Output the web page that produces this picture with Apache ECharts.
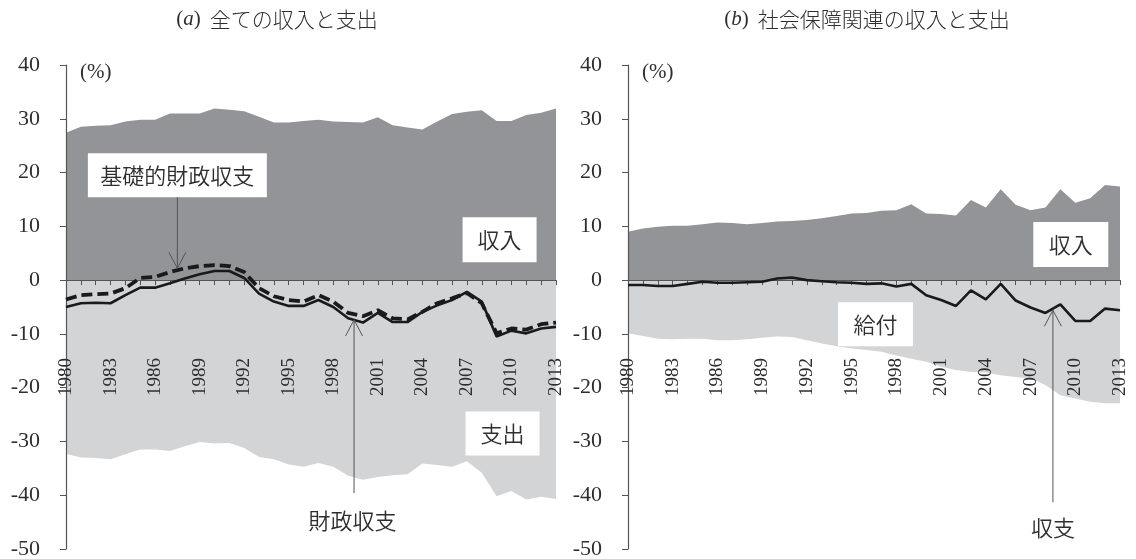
<!DOCTYPE html>
<html>
<head>
<meta charset="utf-8">
<script src="https://cdn.jsdelivr.net/npm/echarts@6/dist/echarts.min.js"></script>
<style>
  html, body { margin: 0; padding: 0; background: #fff; }
  #chart { width: 1136px; height: 559px; }
</style>
</head>
<body>
<div id="chart"></div>
<script>
// Fiscal years on the horizontal axis
const years = ['1980','1981','1982','1983','1984','1985','1986','1987','1988','1989',
  '1990','1991','1992','1993','1994','1995','1996','1997','1998','1999',
  '2000','2001','2002','2003','2004','2005','2006','2007','2008','2009',
  '2010','2011','2012','2013'];

// (a) all revenue and expenditure, % of GDP
const totalRevenue = [27.4,28.5,28.7,28.8,29.5,29.8,29.8,31.0,31.0,31.0,31.9,31.7,31.4,30.4,29.3,29.3,29.6,29.8,29.5,29.4,29.3,30.3,28.8,28.4,28.0,29.5,30.9,31.3,31.6,29.6,29.6,30.7,31.1,31.9];
const totalExpenditure = [-32.3,-33.0,-33.1,-33.3,-32.4,-31.5,-31.5,-31.8,-30.9,-30.1,-30.4,-30.3,-31.2,-32.9,-33.3,-34.3,-34.7,-34.0,-34.7,-36.4,-37.1,-36.6,-36.3,-36.1,-34.1,-34.4,-34.7,-33.7,-35.8,-40.2,-39.2,-40.8,-40.3,-40.7];
const fiscalBalance = [-5.0,-4.3,-4.2,-4.3,-2.8,-1.4,-1.4,-0.6,0.3,1.1,1.7,1.7,0.4,-2.5,-4.0,-4.8,-4.8,-3.7,-5.0,-7.1,-7.9,-6.1,-7.8,-7.8,-5.9,-4.7,-3.7,-2.2,-4.0,-10.5,-9.4,-9.9,-9.0,-8.7];
const primaryBalance = [-3.6,-2.8,-2.6,-2.5,-1.5,0.4,0.6,1.5,2.2,2.6,2.8,2.6,1.5,-1.5,-3.0,-3.7,-4.0,-2.8,-4.0,-6.1,-6.7,-5.6,-7.1,-7.3,-5.9,-4.3,-3.4,-2.4,-4.3,-9.9,-9.0,-9.2,-8.2,-7.9];

// (b) social security revenue, benefits and balance, % of GDP
const ssRevenue = [9.0,9.6,9.9,10.1,10.1,10.4,10.7,10.6,10.4,10.6,10.9,11.0,11.2,11.5,11.9,12.4,12.5,12.9,13.0,14.1,12.4,12.3,12.0,14.9,13.5,16.9,14.0,13.0,13.5,16.9,14.4,15.2,17.7,17.4];
const ssBenefits = [-9.9,-10.4,-10.9,-11.0,-10.9,-10.9,-11.2,-11.2,-11.0,-10.7,-10.5,-10.6,-11.2,-11.8,-12.3,-12.7,-13.0,-13.3,-14.0,-14.6,-15.2,-16.1,-16.7,-17.1,-17.2,-17.7,-18.0,-18.3,-19.5,-21.4,-22.0,-22.6,-22.9,-22.9];
const ssBalance = [-0.9,-0.9,-1.1,-1.1,-0.7,-0.3,-0.5,-0.5,-0.4,-0.3,0.3,0.5,0.0,-0.2,-0.4,-0.5,-0.7,-0.6,-1.2,-0.7,-2.8,-3.7,-4.8,-1.9,-3.6,-0.7,-3.8,-5.1,-6.1,-4.5,-7.6,-7.6,-5.3,-5.6];

// Panel titles and unit label
const panelTitles = ['全ての収入と支出', '社会保障関連の収入と支出'];
const panelLetters = ['a', 'b'];
const unitLabel = '(%)';

const SERIF = 'Liberation Serif';
const JP = 'Noto Sans CJK JP';
const DARK = '#939498';
const LIGHT = '#d3d4d6';
const TEXT = '#2e2e2e';

const chart = echarts.init(document.getElementById('chart'), null, { renderer: 'canvas' });

function xAxisFor(i) {
  return {
    type: 'category', gridIndex: i, data: years, boundaryGap: false, z: 3,
    axisLine: { onZero: true, lineStyle: { color: '#555', width: 1.2 } },
    axisTick: { show: true, interval: 0, length: 5, lineStyle: { color: '#555' } },
    // year labels sit inside the plot, just below the zero line
    axisLabel: {
      interval: 2, rotate: 90, margin: -191,
      fontFamily: SERIF, fontSize: 19, fontWeight: 'normal', color: TEXT
    },
    splitLine: { show: false }
  };
}
function yAxisFor(i) {
  return {
    type: 'value', gridIndex: i, min: -50, max: 40, interval: 10, z: 3,
    name: unitLabel, nameLocation: 'end', nameGap: -7,
    nameTextStyle: { fontFamily: SERIF, fontSize: 21, color: TEXT, align: 'left', verticalAlign: 'middle', padding: [0, 0, 0, 14] },
    axisLine: { show: true, lineStyle: { color: '#555', width: 1.2 } },
    axisTick: { show: true, length: 6, lineStyle: { color: '#555' } },
    axisLabel: { fontFamily: SERIF, fontSize: 22, fontWeight: 'normal', color: TEXT, margin: 26 },
    splitLine: { show: false }
  };
}
function area(i, data, color) {
  return {
    type: 'line', xAxisIndex: i, yAxisIndex: i, data: data, symbol: 'none', z: 2,
    lineStyle: { width: 0 }, areaStyle: { color: color, opacity: 1 }, silent: true
  };
}
function line(i, data, width, dash) {
  return {
    type: 'line', xAxisIndex: i, yAxisIndex: i, data: data, symbol: 'none', z: 5,
    lineStyle: { color: '#1a1a1a', width: width, type: dash || 'solid' }, silent: true
  };
}
function titleFor(i, left) {
  return {
    left: left, top: 4, textAlign: 'center',
    text: '{p|(}{i|' + panelLetters[i] + '}{p|)}  {t|' + panelTitles[i] + '}',
    textStyle: {
      fontWeight: 'normal',
      rich: {
        p: { fontFamily: SERIF, fontSize: 21, fontWeight: 'normal', color: TEXT },
        i: { fontFamily: SERIF, fontSize: 21, fontWeight: 'normal', fontStyle: 'italic', color: TEXT },
        t: { fontFamily: JP, fontSize: 21, fontWeight: 300, color: TEXT }
      }
    }
  };
}

chart.setOption({
  animation: false,
  backgroundColor: '#fff',
  textStyle: { fontFamily: SERIF },
  title: [titleFor(0, 272), titleFor(1, 862)],
  grid: [
    { left: 66, right: 580, top: 65, bottom: 10, outerBoundsMode: 'none', containLabel: false },
    { left: 628, right: 16, top: 65, bottom: 10, outerBoundsMode: 'none', containLabel: false }
  ],
  xAxis: [xAxisFor(0), xAxisFor(1)],
  yAxis: [yAxisFor(0), yAxisFor(1)],
  series: [
    area(0, totalRevenue, DARK),
    area(0, totalExpenditure, LIGHT),
    line(0, primaryBalance, 3.8, [11, 5]),
    line(0, fiscalBalance, 2.6),
    area(1, ssRevenue, DARK),
    area(1, ssBenefits, LIGHT),
    line(1, ssBalance, 2.6)
  ]
});

// Position helper: fractional year index and value -> pixel
function px(g, idx, val) {
  const a = chart.convertToPixel({ gridIndex: g }, [0, val]);
  const b = chart.convertToPixel({ gridIndex: g }, [years.length - 1, val]);
  return [a[0] + (b[0] - a[0]) * idx / (years.length - 1), a[1]];
}

const NOTE_FONT = '350 22px "' + JP + '"';
function labelBox(g, idx, val, w, h, text) {
  const c = px(g, idx, val);
  return [
    { type: 'rect', z: 10, shape: { x: c[0] - w / 2, y: c[1] - h / 2, width: w, height: h }, style: { fill: '#fff' } },
    { type: 'text', z: 11, style: { x: c[0], y: c[1], text: text, align: 'center', verticalAlign: 'middle', font: NOTE_FONT, fill: TEXT } }
  ];
}
function plainLabel(g, idx, val, text) {
  const c = px(g, idx, val);
  return [{ type: 'text', z: 11, style: { x: c[0], y: c[1], text: text, align: 'center', verticalAlign: 'middle', font: NOTE_FONT, fill: TEXT } }];
}
function arrow(g, idx, fromVal, toVal) {
  const s = px(g, idx, fromVal);
  const t = px(g, idx, toVal);
  const dir = t[1] > s[1] ? -1 : 1;
  return [
    { type: 'line', z: 12, shape: { x1: s[0], y1: s[1], x2: t[0], y2: t[1] }, style: { stroke: '#555', lineWidth: 1 } },
    { type: 'polyline', z: 12, shape: { points: [[t[0] - 8.5, t[1] + dir * 16], [t[0], t[1]], [t[0] + 8.5, t[1] + dir * 16]] }, style: { stroke: '#555', lineWidth: 1, fill: null } }
  ];
}

const graphics = [].concat(
  labelBox(0, 7.5, 19.5, 179, 44, '基礎的財政収支'),
  arrow(0, 7.5, 15.4, 2.2),
  labelBox(0, 29.2, 7.5, 74, 45, '収入'),
  labelBox(0, 29.4, -28.5, 74, 44, '支出'),
  plainLabel(0, 19.3, -44.7, '財政収支'),
  arrow(0, 19.4, -39.6, -7.4),
  labelBox(1, 29.7, 6.6, 75, 45, '収入'),
  labelBox(1, 16.6, -8.2, 75, 44, '給付'),
  plainLabel(1, 28.5, -46, '収支'),
  arrow(1, 28.5, -41.3, -5.6)
);
chart.setOption({ graphic: graphics });
</script>
</body>
</html>
